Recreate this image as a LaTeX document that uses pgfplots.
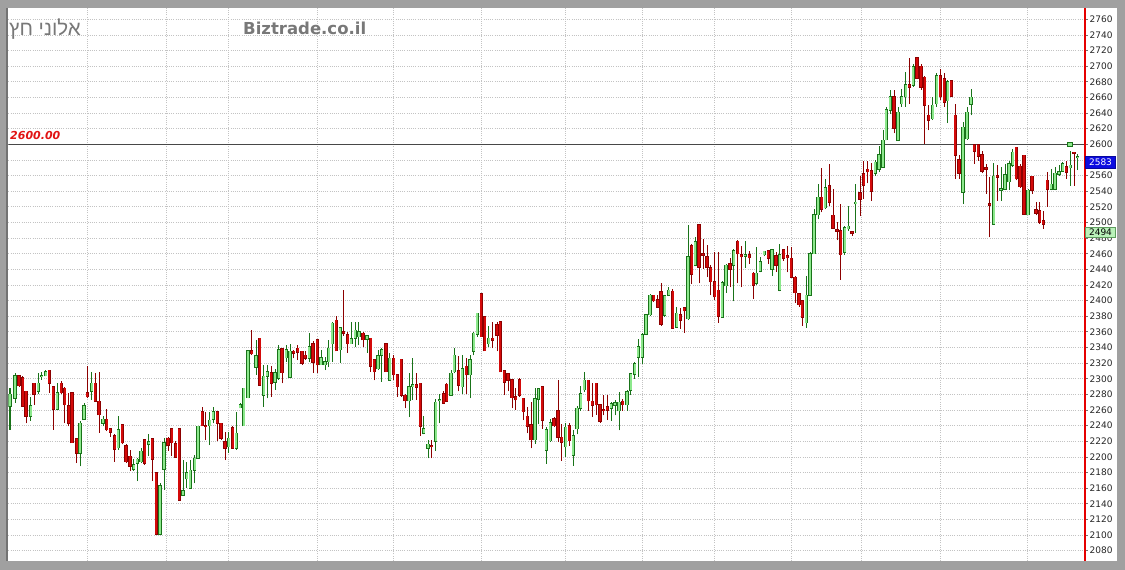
\documentclass[border=0pt]{standalone}
\usepackage{pgfplots}
\usepackage{pgfplotstable}
\pgfplotsset{compat=1.18}
\usepackage{fontspec}
\setmainfont{DejaVu Sans}
\newfontfamily\hebfont[Script=Hebrew]{Liberation Sans}
\TeXXeTstate=1
\definecolor{bggray}{RGB}{160,160,160}
\definecolor{gdark}{RGB}{25,115,25}
\definecolor{glight}{RGB}{140,232,140}
\definecolor{rdark}{RGB}{140,0,0}
\definecolor{rfill}{RGB}{212,10,10}
\definecolor{gridc}{RGB}{195,195,195}
\definecolor{titlegray}{RGB}{120,120,120}
\definecolor{labblue}{RGB}{12,12,225}
\definecolor{labgreen}{RGB}{185,242,185}

\pgfplotstableread{
x o h l c
10 2265 2288 2235 2280
15 2275 2307 2269 2304
30.7 2252 2277 2246 2265
38.3 2284 2308 2280 2294
41.7 2303 2309 2299 2304
45.7 2304 2311 2303 2309
57.3 2261 2295 2261 2282
80 2205 2246 2188 2243
84 2248 2269 2248 2265
91.7 2284 2309 2273 2294
103 2243 2252 2239 2248
118.3 2212 2252 2209 2235
133.7 2184 2197 2182 2190
137.3 2192 2199 2169 2197
141 2194 2212 2192 2207
148.7 2216 2229 2201 2219
160 2101 2167 2101 2163
164 2184 2224 2158 2218
183 2151 2196 2151 2157
186.7 2172 2193 2160 2180
190.3 2160 2196 2160 2183
194.7 2183 2203 2166 2198
198 2198 2239 2198 2239
209.7 2240 2258 2215 2247
213.3 2248 2264 2243 2258
228.7 2213 2232 2205 2224
236.3 2211 2258 2209 2230
240.3 2263 2269 2262 2267
243.7 2240 2288 2240 2288
248 2276 2337 2275 2336
256 2315 2350 2305 2329
263.7 2279 2318 2264 2303
267.3 2303 2318 2275 2309
275 2296 2313 2286 2308
278.7 2301 2343 2299 2337
286.3 2327 2343 2322 2337
290 2302 2345 2301 2335
309.3 2326 2358 2322 2341
321 2318 2337 2318 2327
325 2318 2328 2311 2322
328.7 2322 2350 2315 2339
332.3 2345 2373 2322 2371
340.3 2337 2365 2320 2365
351.3 2345 2373 2345 2351
355.3 2352 2373 2341 2362
358.9 2354 2373 2343 2360
367 2351 2356 2333 2355
378 2313 2337 2311 2329
381.7 2330 2339 2296 2337
389.7 2298 2333 2298 2326
409 2272 2307 2251 2290
412.7 2290 2327 2273 2292
423.7 2230 2252 2229 2236
428 2211 2222 2198 2216
435.7 2220 2274 2208 2270
439.7 2272 2281 2243 2273
451 2279 2311 2279 2307
454.3 2309 2339 2307 2330
462.3 2290 2330 2281 2313
470 2305 2330 2275 2324
473.7 2335 2360 2330 2358
477.3 2357 2384 2354 2384
488.7 2345 2367 2341 2352
535 2222 2288 2217 2274
538.6 2274 2287 2242 2287
546.3 2209 2238 2191 2235
550.3 2221 2249 2219 2244
565.7 2213 2244 2200 2238
573.3 2202 2234 2189 2227
577 2236 2265 2229 2262
580.7 2262 2291 2259 2281
584.3 2286 2309 2283 2298
611.3 2262 2270 2246 2268
615 2266 2273 2253 2269
619 2259 2283 2234 2270
627 2267 2285 2259 2283
630.7 2285 2306 2279 2306
634.7 2306 2321 2300 2319
638.3 2328 2351 2302 2341
642.3 2328 2359 2319 2356
646 2357 2383 2356 2382
650 2382 2409 2380 2407
664.7 2381 2407 2379 2406
668.7 2407 2418 2406 2413
676.7 2366 2392 2365 2384
688 2377 2497 2375 2456
695.3 2445 2481 2444 2475
722.3 2379 2425 2378 2423
726 2419 2447 2410 2445
733.7 2445 2466 2399 2464
745.3 2457 2476 2442 2459
756.3 2422 2468 2420 2435
760.3 2438 2456 2436 2450
764.3 2459 2464 2457 2463
772 2440 2466 2432 2465
779.7 2413 2472 2412 2459
806.3 2372 2432 2365 2407
810 2407 2462 2406 2460
814 2460 2517 2460 2510
818 2510 2549 2504 2532
825.3 2519 2556 2517 2544
844.7 2462 2496 2459 2493
848.3 2492 2521 2489 2495
855.7 2524 2549 2487 2526
875.3 2563 2580 2560 2577
879 2568 2598 2565 2587
883 2571 2618 2570 2605
886.3 2606 2648 2605 2644
890.3 2644 2670 2639 2661
898 2605 2648 2604 2641
901.7 2652 2671 2648 2661
905.7 2661 2693 2648 2676
913.3 2676 2703 2674 2699
932.7 2633 2661 2631 2650
936.7 2652 2691 2648 2688
947.7 2656 2682 2627 2680
963 2539 2629 2524 2622
967 2607 2648 2606 2641
971 2651 2671 2637 2660
993.7 2498 2576 2498 2559
1001 2541 2571 2528 2543
1005 2543 2575 2542 2561
1009 2552 2579 2542 2575
1012.7 2573 2594 2571 2590
1028 2510 2543 2509 2541
1051.3 2543 2569 2541 2549
1055 2543 2571 2541 2563
1059 2562 2573 2560 2565
1062.7 2566 2577 2565 2575
1070.3 2570 2592 2547 2573
1077.7 2583 2588 2567 2584
}\greentab

\pgfplotstableread{
x o h l c
19 2304 2305 2290 2291
22.7 2301 2303 2265 2265
26 2284 2284 2243 2252
34 2294 2294 2267 2280
49.3 2311 2311 2282 2294
53.3 2290 2290 2235 2261
61.3 2294 2297 2280 2282
64.7 2288 2290 2243 2267
68.7 2265 2282 2239 2243
72 2282 2282 2218 2218
76.7 2223 2223 2192 2205
87.3 2282 2316 2275 2277
95.3 2294 2307 2271 2271
99 2271 2309 2231 2254
106.7 2248 2261 2233 2235
110.3 2236 2237 2226 2232
114.7 2227 2229 2194 2210
122.3 2241 2241 2216 2218
126 2214 2216 2192 2194
130 2201 2209 2182 2188
144.7 2222 2222 2190 2192
152.3 2223 2223 2169 2197
156.3 2180 2180 2101 2101
168 2224 2226 2208 2215
171.7 2236 2237 2201 2218
175.5 2217 2220 2199 2200
179.2 2236 2236 2145 2145
202.3 2258 2264 2239 2240
205.7 2240 2258 2222 2239
217.3 2258 2258 2220 2243
221 2243 2243 2222 2224
225 2219 2232 2196 2211
232.7 2237 2239 2211 2211
251.7 2336 2362 2331 2332
259.7 2352 2352 2291 2292
271.3 2308 2316 2277 2294
282 2338 2338 2294 2308
293.7 2335 2337 2326 2333
297.7 2339 2343 2324 2334
302 2335 2335 2318 2320
305.3 2330 2336 2324 2326
313 2345 2348 2308 2321
317.3 2350 2350 2307 2318
336.3 2375 2380 2336 2336
343.7 2360 2414 2355 2358
347.7 2356 2360 2333 2345
363 2358 2360 2341 2350
370.7 2352 2352 2309 2316
374.3 2324 2324 2298 2309
386 2345 2345 2309 2309
393.7 2326 2330 2298 2305
397.3 2305 2305 2277 2290
401.3 2325 2325 2277 2279
405 2279 2281 2262 2272
416.3 2292 2307 2273 2289
420.3 2294 2294 2227 2239
431.7 2214 2222 2198 2213
443.7 2281 2284 2268 2269
446.7 2293 2294 2271 2271
458.7 2310 2329 2284 2292
466.3 2316 2326 2281 2305
481.3 2409 2409 2354 2354
484.7 2379 2379 2336 2336
492.7 2352 2373 2339 2349
497 2369 2373 2335 2356
500.3 2373 2373 2309 2309
504.3 2310 2311 2279 2296
508 2306 2306 2284 2298
512 2299 2299 2262 2276
515.7 2277 2288 2260 2273
519.7 2299 2301 2277 2279
523.3 2275 2275 2247 2258
527.3 2252 2264 2230 2239
531 2241 2270 2211 2222
542.3 2290 2290 2236 2247
554 2249 2251 2238 2240
558 2259 2299 2219 2225
561.7 2225 2242 2195 2219
569.3 2240 2244 2214 2221
588.3 2298 2298 2259 2272
592.3 2271 2294 2251 2266
596.3 2294 2294 2254 2267
600 2267 2267 2244 2246
603.7 2260 2279 2253 2259
607.3 2264 2279 2247 2260
622.7 2271 2274 2259 2267
653.7 2407 2407 2398 2400
657.7 2401 2407 2391 2392
661 2411 2422 2368 2370
672.7 2412 2415 2364 2365
680.3 2382 2390 2364 2375
684.3 2391 2392 2359 2387
691.7 2470 2473 2421 2434
699 2497 2497 2422 2443
703 2460 2479 2440 2458
707 2456 2471 2430 2443
710.7 2442 2445 2407 2424
714.7 2424 2462 2401 2405
718.3 2413 2462 2372 2380
730 2447 2455 2417 2440
737.7 2476 2477 2422 2460
741.3 2459 2470 2417 2456
749.3 2459 2464 2447 2455
753.3 2435 2436 2402 2420
768.3 2464 2465 2447 2454
776 2457 2462 2437 2445
783.7 2465 2466 2451 2454
787.3 2457 2470 2436 2455
791.3 2454 2468 2430 2430
795 2430 2432 2397 2410
799 2409 2410 2392 2395
802.3 2400 2400 2368 2379
821.7 2532 2570 2513 2517
829.3 2547 2575 2521 2526
833 2509 2543 2492 2493
837 2491 2500 2477 2489
840.7 2489 2524 2427 2459
852 2488 2489 2483 2486
860 2538 2560 2508 2530
863.7 2562 2579 2530 2548
867.7 2568 2579 2550 2565
871.3 2566 2576 2528 2540
894 2661 2669 2614 2621
909.3 2676 2710 2652 2673
917 2711 2711 2684 2685
921 2700 2703 2670 2673
924.7 2686 2688 2601 2650
928.7 2637 2650 2618 2631
940.3 2688 2697 2657 2661
944.3 2684 2691 2648 2654
951.3 2681 2682 2661 2662
955.3 2637 2652 2556 2586
959 2580 2586 2556 2563
974.3 2599 2599 2575 2591
978.3 2599 2600 2579 2585
982 2587 2592 2563 2566
986 2570 2575 2537 2568
989.7 2524 2558 2481 2522
997.3 2560 2574 2528 2558
1016.3 2596 2596 2554 2556
1020 2572 2575 2544 2546
1024 2586 2586 2510 2511
1032 2559 2560 2537 2541
1036 2516 2526 2509 2512
1039.7 2515 2526 2498 2500
1043.3 2502 2515 2492 2498
1047.3 2554 2564 2520 2543
1066.3 2571 2579 2556 2564
1074 2590 2590 2547 2589
}\redtab

\pgfplotsset{
  ebar/.style 2 args={draw=none, mark=none, forget plot,
    error bars/.cd, y dir=plus, y explicit, error mark=none,
    error bar style={line width=#2, draw=#1, solid, line cap=butt}},
}

\begin{document}
\begin{tikzpicture}[x=1pt,y=1pt]
\path[use as bounding box] (0,0) rectangle (1125,570);
\fill[bggray] (0,0) rectangle (1125,570);
\fill[white] (8.3,9) rectangle (1117,561.7);
\begin{axis}[
  at={(8.3pt,9pt)}, anchor=south west,
  scale only axis, width=1075.7pt, height=552.7pt,
  xmin=8.3, xmax=1084, ymin=2066.8, ymax=2774.1,
  axis line style={draw=none},
  xtick={87.5,166.5,228.5,317.7,393.7,481.7,565.7,642.3,714.5,791,861.7,940,1027.5},
  xticklabels={}, xtick style={draw=none},
  ytick={2080,2100,...,2760},
  yticklabels={2080,2100,2120,2140,2160,2180,2200,2220,2240,2260,2280,2300,2320,2340,2360,2380,2400,2420,2440,2460,2480,2500,2520,2540,2560,,2600,2620,2640,2660,2680,2700,2720,2740,2760},
  ytick pos=right, yticklabel pos=right,
  tick align=outside, major tick length=3.5pt,
  ytick style={black!55, line width=0.8pt},
  yticklabel style={font=\fontsize{9}{10}\selectfont, text=black!85, anchor=west, inner sep=0pt, xshift=2pt},
  grid=major,
  major grid style={gridc, line width=0.8pt, dash pattern=on 1pt off 1.2pt},
]
% 2600 line
\addplot[black!72, line width=1pt, forget plot] coordinates {(8.3,2600) (1084,2600)};
% green candles
\addplot[ebar={gdark}{1pt}] table[x=x, y=l, y error expr=\thisrow{h}-\thisrow{l}] {\greentab};
\addplot[ebar={gdark}{3.3pt}] table[x=x, y expr=\thisrow{o}-0.8, y error expr=\thisrow{c}-\thisrow{o}+1.6] {\greentab};
\addplot[ebar={glight}{1.7pt}] table[x=x, y=o, y error expr=\thisrow{c}-\thisrow{o}] {\greentab};
% red candles
\addplot[ebar={rdark}{1pt}] table[x=x, y=l, y error expr=\thisrow{h}-\thisrow{l}] {\redtab};
\addplot[ebar={rdark}{3.3pt}] table[x=x, y expr=\thisrow{c}-0.8, y error expr=\thisrow{o}-\thisrow{c}+1.6] {\redtab};
\addplot[ebar={rfill}{2.0pt}] table[x=x, y=c, y error expr=\thisrow{o}-\thisrow{c}] {\redtab};
% handle square on the 2600 line
\addplot[only marks, mark=square*, mark size=2.3pt, mark options={fill=glight, draw=gdark, line width=0.8pt}, forget plot] coordinates {(1070,2600)};
\end{axis}
\draw[red!90!black, line width=2pt] (1085,9) -- (1085,561.7);
\draw[black!55, line width=2pt] (7.3,9) -- (7.3,561.7);
\node[anchor=base west, inner sep=0pt, text=titlegray, font=\hebfont\fontsize{20.5}{22}\selectfont] at (9,534) {\beginR אלוני חץ\endR};
\node[anchor=base west, inner sep=0pt, text=titlegray, font=\bfseries\fontsize{16.5}{18}\selectfont] at (243,535.7) {Biztrade.co.il};
\node[anchor=base west, inner sep=0pt, text={rgb,255:red,225;green,20;blue,20}, font=\bfseries\itshape\fontsize{11}{12}\selectfont] at (10,430) {2600.00};
\node[fill=labblue, draw=labblue!70!black, line width=0.5pt, text=white, font=\fontsize{9}{10}\selectfont, minimum width=30pt, minimum height=11.5pt, inner sep=0pt] at (1100.5,407.5) {2583};
\node[fill=labgreen, draw=gdark!70, line width=0.5pt, text=black, font=\fontsize{9}{10}\selectfont, minimum width=30pt, minimum height=9.6pt, inner sep=0pt] at (1100.5,337.5) {2494};
\end{tikzpicture}
\end{document}
